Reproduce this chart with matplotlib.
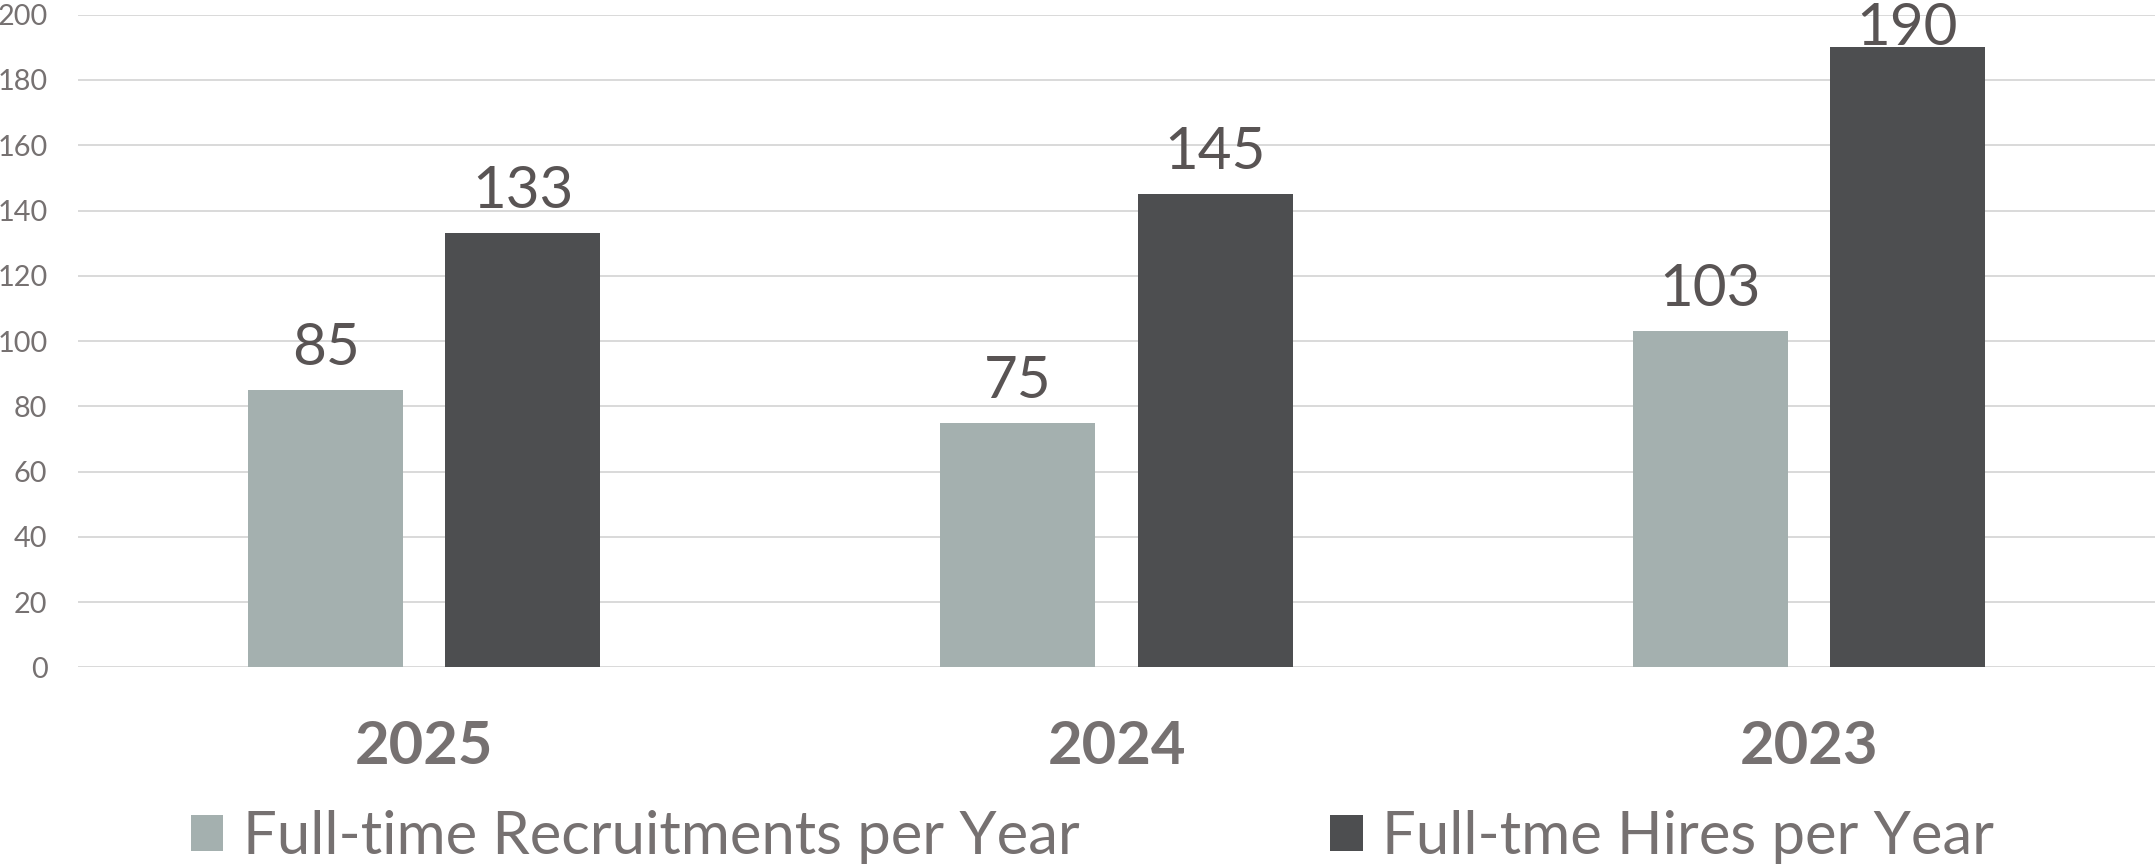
import matplotlib
matplotlib.use('Agg')
import matplotlib.pyplot as plt
import numpy as np
from matplotlib.patches import Patch

# data
years = ['2025', '2024', '2023']
recruitments = [85, 75, 103]
hires = [133, 145, 190]
series_names = ['Full-time Recruitments per Year', 'Full-tme Hires per Year']
y_ticks = list(range(0, 201, 20))

LIGHT = '#A4B0AF'
DARK = '#4D4E50'
TEXT = '#767171'
VALUE_TEXT = '#595454'
GRID = '#D9D9D9'

plt.rcParams['font.family'] = ['Lato', 'DejaVu Sans']

fig = plt.figure(figsize=(21.55, 8.67), dpi=100)
ax_bottom, ax_top = 0.2303, 0.983
ax = fig.add_axes([0.0362, ax_bottom, 0.9638, ax_top - ax_bottom])

x = np.arange(len(years))
width = 0.224
offset = 0.1425
ax.bar(x - offset, recruitments, width, color=LIGHT, zorder=2)
ax.bar(x + offset, hires, width, color=DARK, zorder=2)

ax.set_xlim(-0.5, len(years) - 0.5)
ax.set_ylim(0, 200)
ax.set_yticks(y_ticks)
ax.yaxis.grid(True, color=GRID, linewidth=1.4, zorder=0)
ax.set_axisbelow(True)
for s in ax.spines.values():
    s.set_visible(False)

ax.tick_params(axis='y', length=0, pad=22, labelsize=20.8, labelcolor=TEXT)
ax.set_xticks(x)
ax.set_xticklabels(years, fontsize=43, fontweight='bold', color=TEXT)
ax.tick_params(axis='x', length=0, pad=38)

# value labels above the bars, pushed down when they would run off the top
px_per_unit = (ax_top - ax_bottom) * 867 / 200
gap = 25 / px_per_unit
digit_h = 42 / px_per_unit
top_limit = 200 + 12 / px_per_unit
for xs, vals in ((x - offset, recruitments), (x + offset, hires)):
    for xi, v in zip(xs, vals):
        yb = min(v + gap, top_limit - digit_h)
        ax.text(xi, yb, str(v), ha='center', va='baseline', fontsize=42,
                color=VALUE_TEXT, clip_on=False)

handles = [Patch(facecolor=LIGHT, edgecolor='none'), Patch(facecolor=DARK, edgecolor='none')]
leg = fig.legend(handles, series_names, loc='center', bbox_to_anchor=(0.507, 0.0346),
                 ncol=2, frameon=False, fontsize=43, handlelength=0.54, handleheight=0.54,
                 handletextpad=0.33, columnspacing=4.2, borderpad=0, borderaxespad=0)
for t in leg.get_texts():
    t.set_color(TEXT)

fig.savefig('out.png', dpi=100)
